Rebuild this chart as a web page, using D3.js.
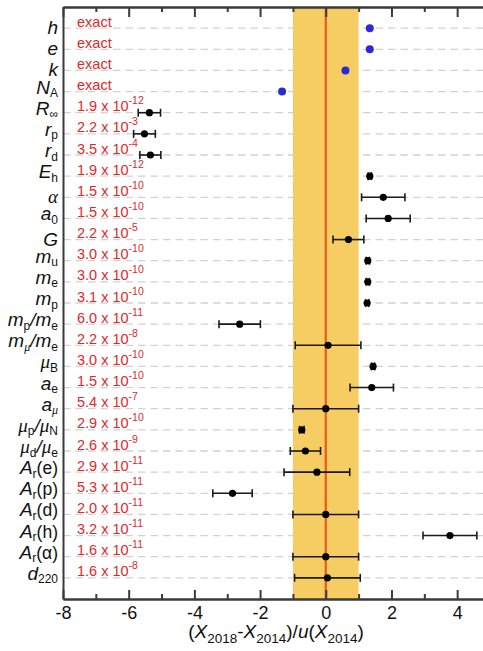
<!DOCTYPE html>
<html>
<head>
<meta charset="utf-8">
<script src="https://cdn.jsdelivr.net/npm/d3@7"></script>
<style>
  html, body { margin: 0; padding: 0; background: #fff; }
  svg { display: block; }
</style>
</head>
<body>
<div id="chart"></div>
<script>
// ---------- DATA ----------
const quantities = ["h","e","k","N_{A}","R_{∞}","r_{p}","r_{d}","E_{h}","α","a_{0}","G",
  "m_{u}","m_{e}","m_{p}","m_{p}/m_{e}","m_{μ}/m_{e}","μ_{B}","a_{e}","a_{μ}",
  "μ_{p}/μ_{N}","μ_{d}/μ_{e}","A_{r}(e)","A_{r}(p)","A_{r}(d)","A_{r}(h)","A_{r}(α)","d_{220}"];
const shifts = [1.34,1.34,0.60,-1.33,-5.37,-5.52,-5.34,1.34,1.75,1.90,0.69,
  1.28,1.28,1.26,-2.62,0.07,1.44,1.40,0.00,-0.73,-0.62,-0.27,-2.84,0.00,3.78,0.00,0.05];
const shiftErrors = [null,null,null,null,0.34,0.33,0.32,0.05,0.66,0.67,0.47,
  0.05,0.05,0.05,0.63,1.0,0.05,0.66,1.0,0.07,0.46,1.0,0.60,1.0,0.82,1.0,1.0];
const uncMantissa = ["exact","exact","exact","exact","1.9","2.2","3.5","1.9","1.5","1.5","2.2",
  "3.0","3.0","3.1","6.0","2.2","3.0","1.5","5.4","2.9","2.6","2.9","5.3","2.0","3.2","1.6","1.6"];
const uncExponent = [null,null,null,null,"-12","-3","-4","-12","-10","-10","-5",
  "-10","-10","-10","-11","-8","-10","-10","-7","-10","-9","-11","-11","-11","-11","-11","-8"];
const majorTicks = [-8,-6,-4,-2,0,2,4];
const minorTicks = [-7,-5,-3,-1,1,3,5];
const xDomain = [-8, 5];
const bandHalfWidth = 1;

// ---------- LAYOUT ----------
const W = 483, H = 651;
const mLeft = 63, mTop = 7, mBottom = 599, mRight = 490;
const sans = "'Liberation Sans', Arial, Helvetica, sans-serif";
const serif = "'Liberation Serif', 'Times New Roman', serif";

const svg = d3.select("#chart").append("svg").attr("width", W).attr("height", H);

const x = d3.scaleLinear().domain(xDomain).range([mLeft, mRight]);
const y = d3.scalePoint().domain(d3.range(quantities.length)).range([mTop, mBottom]).padding(1);

const data = quantities.map((q, i) => ({q, i, v: shifts[i], e: shiftErrors[i], m: uncMantissa[i], p: uncExponent[i]}));

// gridlines
svg.append("g").selectAll("line").data(data).join("line")
  .attr("x1", mLeft).attr("x2", W)
  .attr("y1", d => y(d.i)).attr("y2", d => y(d.i))
  .attr("stroke", "#d2d2d2").attr("stroke-width", 1.3)
  .attr("stroke-dasharray", "7.5,5");

// band
svg.append("rect")
  .attr("x", x(-bandHalfWidth)).attr("y", mTop)
  .attr("width", x(bandHalfWidth) - x(-bandHalfWidth)).attr("height", mBottom - mTop)
  .attr("fill", "#f6cd62");

// zero line
svg.append("line")
  .attr("x1", x(0)).attr("x2", x(0)).attr("y1", mTop).attr("y2", mBottom)
  .attr("stroke", "#e85a1a").attr("stroke-width", 2.2);

// axes
function styleAxis(g) {
  g.selectAll(".domain").attr("stroke", "#3a3a3a").attr("stroke-width", 2);
  g.selectAll(".tick line").attr("stroke", "#3a3a3a").attr("stroke-width", 2);
  g.selectAll(".tick text").attr("fill", "#111").attr("font-family", sans).attr("font-size", 18);
}
svg.append("g").attr("transform", `translate(0,${mBottom})`)
  .call(d3.axisBottom(x).tickValues(majorTicks).tickSizeInner(-9).tickSizeOuter(0).tickPadding(7)
    .tickFormat(d => d < 0 ? "-" + Math.abs(d) : d))
  .call(styleAxis);
svg.append("g").attr("transform", `translate(0,${mBottom})`)
  .call(d3.axisBottom(x).tickValues(minorTicks).tickSizeInner(-5).tickSizeOuter(0).tickFormat(""))
  .call(styleAxis);
svg.append("g").attr("transform", `translate(0,${mTop})`)
  .call(d3.axisTop(x).tickValues(majorTicks).tickSizeInner(-10).tickSizeOuter(0).tickFormat(""))
  .call(styleAxis);
svg.append("g").attr("transform", `translate(0,${mTop})`)
  .call(d3.axisTop(x).tickValues(minorTicks).tickSizeInner(-5).tickSizeOuter(0).tickFormat(""))
  .call(styleAxis);
svg.append("g").attr("transform", `translate(${mLeft},0)`)
  .call(d3.axisLeft(d3.scaleLinear().range([mTop, mBottom])).tickValues([]).tickSizeOuter(0))
  .call(styleAxis);

// y labels (markup: X_{sub}, parentheses upright)
const subDy = 3.5;
function addLabel(text, str) {
  const parts = [];
  const re = /_\{([^}]*)\}/g;
  let last = 0, m;
  while ((m = re.exec(str)) !== null) {
    if (m.index > last) parts.push({t: str.slice(last, m.index), sub: false});
    parts.push({t: m[1], sub: true});
    last = re.lastIndex;
  }
  if (last < str.length) parts.push({t: str.slice(last), sub: false});
  let shifted = false;
  parts.forEach(p => {
    if (p.sub) {
      const greek = /[μα]/.test(p.t);
      text.append("tspan").text(p.t)
        .attr("dy", shifted ? 0 : subDy)
        .attr("font-size", 12)
        .attr("font-style", greek ? "italic" : "normal")
        .attr("font-family", greek ? serif : sans);
      shifted = true;
    } else {
      const pieces = p.t.split(/(\([^)]*\))/).filter(s => s.length);
      pieces.forEach(s => {
        const paren = s.startsWith("(");
        const chars = paren ? [s] : s.split(/([μα])/).filter(c => c.length);
        chars.forEach(c => {
          const greek = /^[μα]$/.test(c);
          text.append("tspan").text(c)
            .attr("dy", shifted ? -subDy : 0)
            .attr("font-size", paren ? 17.5 : 19)
            .attr("font-style", paren ? "normal" : "italic")
            .attr("font-family", greek ? serif : sans);
          shifted = false;
        });
      });
    }
  });
}
const ylab = svg.append("g");
data.forEach(d => {
  const hasSub = d.q.includes("_");
  const t = ylab.append("text")
    .attr("x", 58).attr("y", y(d.i) + (hasSub ? 2 : 6))
    .attr("text-anchor", "end").attr("fill", "#111")
    .attr("font-family", sans);
  addLabel(t, d.q);
});

// uncertainty labels
const ulab = svg.append("g");
data.forEach(d => {
  const t = ulab.append("text")
    .attr("x", 77).attr("y", y(d.i) - 1.5)
    .attr("fill", "#e0282a").attr("font-family", sans).attr("font-size", 14.5);
  if (d.p === null) {
    t.text(d.m);
  } else {
    t.append("tspan").text(d.m + " x 10");
    t.append("tspan").text(d.p).attr("dy", -7).attr("font-size", 10.5);
  }
});

// error bars
const withErr = data.filter(d => d.e !== null);
const eb = svg.append("g").attr("stroke", "#1a1a1a").attr("stroke-width", 1.6);
eb.selectAll("line.h").data(withErr).join("line").attr("class", "h")
  .attr("x1", d => x(d.v - d.e)).attr("x2", d => x(d.v + d.e))
  .attr("y1", d => y(d.i)).attr("y2", d => y(d.i));
eb.selectAll("line.l").data(withErr).join("line").attr("class", "l")
  .attr("x1", d => x(d.v - d.e)).attr("x2", d => x(d.v - d.e))
  .attr("y1", d => y(d.i) - 4).attr("y2", d => y(d.i) + 4);
eb.selectAll("line.r").data(withErr).join("line").attr("class", "r")
  .attr("x1", d => x(d.v + d.e)).attr("x2", d => x(d.v + d.e))
  .attr("y1", d => y(d.i) - 4).attr("y2", d => y(d.i) + 4);

// points
svg.append("g").selectAll("circle").data(data).join("circle")
  .attr("cx", d => x(d.v)).attr("cy", d => y(d.i))
  .attr("r", d => d.e === null ? 4 : 3.6)
  .attr("fill", d => d.e === null ? "#2a2ad6" : "#000");

// x title
const title = svg.append("text").attr("x", 276).attr("y", 638)
  .attr("text-anchor", "middle").attr("font-family", sans).attr("font-size", 19).attr("fill", "#111");
title.append("tspan").text("(");
title.append("tspan").text("X").attr("font-style", "italic");
title.append("tspan").text("2018").attr("font-size", 13.5).attr("dy", 5);
title.append("tspan").text("-").attr("dy", -5);
title.append("tspan").text("X").attr("font-style", "italic");
title.append("tspan").text("2014").attr("font-size", 13.5).attr("dy", 5);
title.append("tspan").text(")/").attr("dy", -5);
title.append("tspan").text("u").attr("font-style", "italic");
title.append("tspan").text("(");
title.append("tspan").text("X").attr("font-style", "italic");
title.append("tspan").text("2014").attr("font-size", 13.5).attr("dy", 5);
title.append("tspan").text(")").attr("dy", -5);
</script>
</body>
</html>
